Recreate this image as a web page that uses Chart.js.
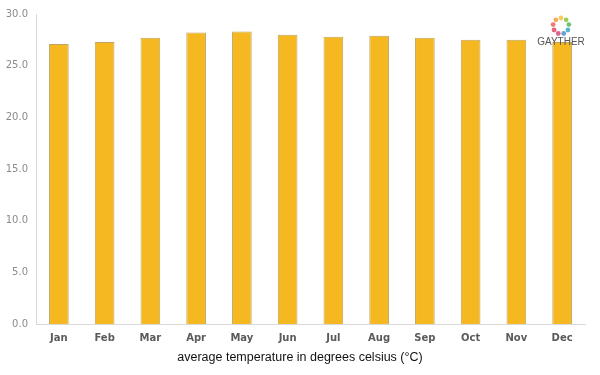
<!DOCTYPE html>
<html>
<head>
<meta charset="utf-8">
<script src="https://cdn.jsdelivr.net/npm/chart.js@4/dist/chart.umd.min.js"></script>
<style>
html,body{margin:0;padding:0;background:#fff;}
#wrap{width:600px;height:375px;position:relative;}
</style>
</head>
<body>
<div id="wrap"><canvas id="c" width="600" height="375"></canvas></div>
<script>
const months = ["Jan","Feb","Mar","Apr","May","Jun","Jul","Aug","Sep","Oct","Nov","Dec"];
const avgTemp = [27.1, 27.3, 27.7, 28.2, 28.3, 28.0, 27.8, 27.9, 27.7, 27.5, 27.5, 27.3];
const yTicks = [0, 5, 10, 15, 20, 25, 30];
const axisTitle = "average temperature in degrees celsius (°C)";
const logoText = "GAYTHER";

const extrasPlugin = {
  id: 'extras',
  afterDraw(chart) {
    const ctx = chart.ctx;
    ctx.save();
    // axis title, centred on the page
    ctx.fillStyle = '#111';
    ctx.font = '12.5px "Liberation Sans", Arial, sans-serif';
    ctx.textAlign = 'center';
    ctx.textBaseline = 'middle';
    ctx.fillText(axisTitle, chart.width / 2, 358);
    // logo
    const cx = 561, cy = 26, r = 8;
    const cols = ['#f4c542','#8cc63f','#5cb85c','#3aa7c9','#4a90c9','#d04a7a','#e8465a','#f0605d','#f59a3a'];
    ctx.globalAlpha = 0.85;
    for (let i = 0; i < 9; i++) {
      const a = -Math.PI/2 + i * 2 * Math.PI / 9;
      ctx.fillStyle = cols[i];
      ctx.beginPath();
      ctx.arc(cx + r*Math.cos(a), cy + r*Math.sin(a), 2.4, 0, Math.PI*2);
      ctx.fill();
    }
    ctx.globalAlpha = 1;
    ctx.fillStyle = '#555';
    ctx.font = '10px "Liberation Sans", Arial, sans-serif';
    ctx.fillText(logoText, cx, 42);
    ctx.restore();
  }
};

new Chart(document.getElementById('c'), {
  type: 'bar',
  data: {
    labels: months,
    datasets: [{
      data: avgTemp,
      backgroundColor: '#F5B820',
      borderColor: '#BFA561',
      borderWidth: 1,
      barPercentage: 0.43,
      categoryPercentage: 1.0
    }]
  },
  options: {
    responsive: false,
    animation: false,
    devicePixelRatio: 1,
    layout: { padding: { left: 0, right: 15, top: 8, bottom: 0 } },
    plugins: { legend: { display: false }, tooltip: { enabled: false } },
    scales: {
      y: {
        min: 0, max: 30,
        afterBuildTicks(axis) { axis.ticks = yTicks.map(v => ({ value: v })); },
        afterFit(axis) { axis.width = 36; },
        grid: { display: false, drawTicks: false },
        border: { display: true, color: '#d9d9d9', width: 1 },
        ticks: {
          padding: 8,
          color: '#8a8a8a',
          font: { size: 10, family: '"DejaVu Sans", sans-serif' },
          callback: v => Number(v).toFixed(1)
        }
      },
      x: {
        afterFit(axis) { axis.height = 51; },
        grid: { display: false, drawTicks: false },
        border: { display: true, color: '#d9d9d9', width: 1 },
        ticks: {
          padding: 8,
          color: '#5a5a5a',
          font: { size: 10, weight: 'bold', family: '"DejaVu Sans", sans-serif' }
        },
        title: { display: false }
      }
    }
  },
  plugins: [extrasPlugin]
});
</script>
</body>
</html>
